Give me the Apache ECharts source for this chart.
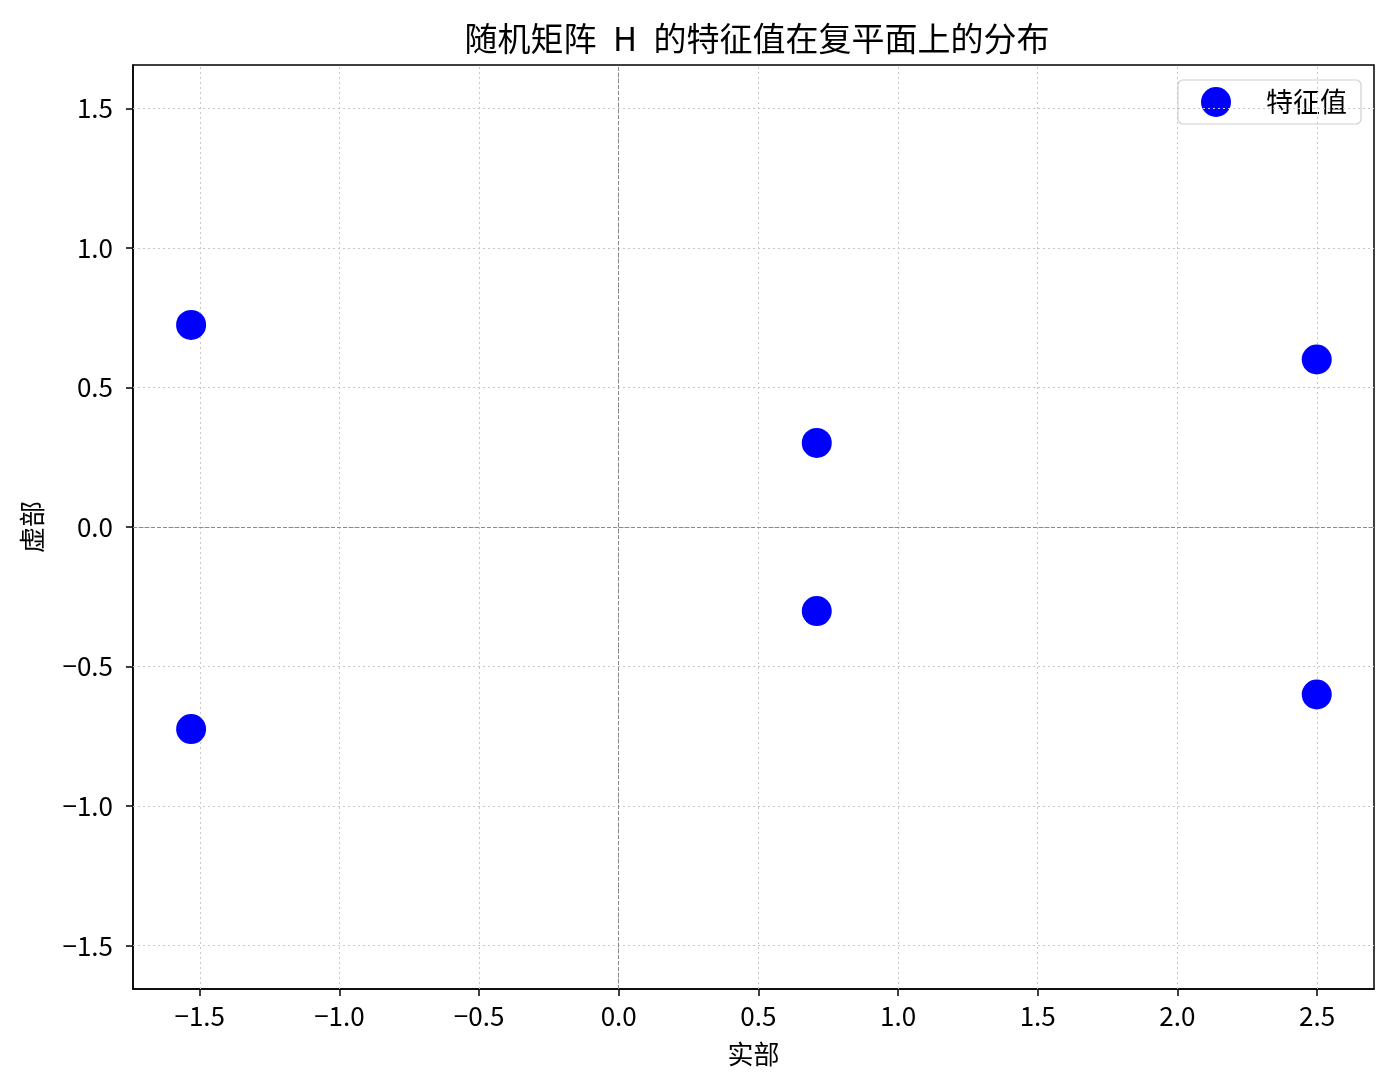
<!DOCTYPE html>
<html>
<head>
<meta charset="utf-8">
<script src="https://cdn.jsdelivr.net/npm/echarts@6/dist/echarts.min.js"></script>
<style>
html,body{margin:0;padding:0;background:#fff;}
#chart{width:1392px;height:1090px;}
</style>
</head>
<body>
<div id="chart"></div>
<script>
// Eigenvalues (real, imaginary)
const realParts = [-1.531, -1.531, 0.709, 0.709, 2.499, 2.499];
const imagParts = [0.724, -0.724, 0.301, -0.301, 0.600, -0.600];
const xTicks = [-1.5, -1.0, -0.5, 0.0, 0.5, 1.0, 1.5, 2.0, 2.5];
const yTicks = [-1.5, -1.0, -0.5, 0.0, 0.5, 1.0, 1.5];
const xRange = [-1.739, 2.704];
const yRange = [-1.655, 1.655];
const seriesName = '特征值';
const titleText = '随机矩阵\u2002H\u2002的特征值在复平面上的分布';
const xName = '实部';
const yName = '虚部';

const FONT = '"Noto Sans CJK SC", "Noto Sans", sans-serif';
const fmt = v => v.toFixed(1).replace('-', '\u2212');

const points = realParts.map((r, i) => [r, imagParts[i]]);

const chart = echarts.init(document.getElementById('chart'));
chart.setOption({
  animation: false,
  backgroundColor: '#fff',
  textStyle: { fontFamily: FONT },
  title: {
    text: titleText,
    left: 752,
    top: 17,
    textAlign: 'center',
    textStyle: { fontFamily: FONT, fontSize: 33, fontWeight: 'normal', color: '#000' }
  },
  grid: {
    left: 133, right: 18, top: 65, bottom: 101,
    show: true, borderColor: '#000', borderWidth: 1.5, backgroundColor: 'transparent'
  },
  legend: {
    right: 31, top: 80,
    orient: 'vertical',
    icon: 'circle',
    itemWidth: 30, itemHeight: 30,
    padding: [7, 14, 7, 23],
    borderColor: '#d0d0d0', borderWidth: 1.2, borderRadius: 5,
    backgroundColor: 'rgba(255,255,255,0.8)',
    textStyle: { fontFamily: FONT, fontSize: 27, color: '#000', padding: [0, 0, 0, 30] },
    data: [seriesName]
  },
  xAxis: {
    type: 'value',
    min: xRange[0], max: xRange[1],
    name: xName, nameLocation: 'middle', nameGap: 52,
    nameTextStyle: { fontFamily: FONT, fontSize: 26, color: '#000' },
    axisLine: { show: true, onZero: false, lineStyle: { color: '#000', width: 1.5 } },
    axisTick: { show: true, length: 7, lineStyle: { color: '#000', width: 1.5 }, customValues: xTicks },
    axisLabel: { fontFamily: FONT, fontSize: 26, color: '#000', margin: 14, customValues: xTicks, formatter: fmt },
    splitLine: { show: false }
  },
  yAxis: {
    type: 'value',
    min: yRange[0], max: yRange[1],
    name: yName, nameLocation: 'middle', nameGap: 88, nameRotate: 90,
    nameTextStyle: { fontFamily: FONT, fontSize: 26, color: '#000' },
    axisLine: { show: true, onZero: false, lineStyle: { color: '#000', width: 1.5 } },
    axisTick: { show: true, length: 7, lineStyle: { color: '#000', width: 1.5 }, customValues: yTicks },
    axisLabel: { fontFamily: FONT, fontSize: 26, color: '#000', margin: 20, customValues: yTicks, formatter: fmt },
    splitLine: { show: false }
  },
  series: [
    {
      name: 'grid',
      type: 'line',
      data: [],
      silent: true,
      markLine: {
        silent: true,
        symbol: 'none',
        label: { show: false },
        lineStyle: { color: '#c8c8c8', type: [2, 3], width: 1 },
        data: xTicks.map(v => ({ xAxis: v })).concat(yTicks.map(v => ({ yAxis: v })))
      }
    },
    {
      name: 'zero',
      type: 'line',
      data: [],
      silent: true,
      markLine: {
        silent: true,
        symbol: 'none',
        label: { show: false },
        lineStyle: { color: '#8a8a8a', type: [4, 2], width: 1 },
        data: [{ xAxis: 0 }, { yAxis: 0 }]
      }
    },
    {
      name: seriesName,
      type: 'scatter',
      symbol: 'circle',
      symbolSize: 30,
      itemStyle: { color: '#0000ff', opacity: 1 },
      data: points,
      z: 5
    }
  ]
});
</script>
</body>
</html>
